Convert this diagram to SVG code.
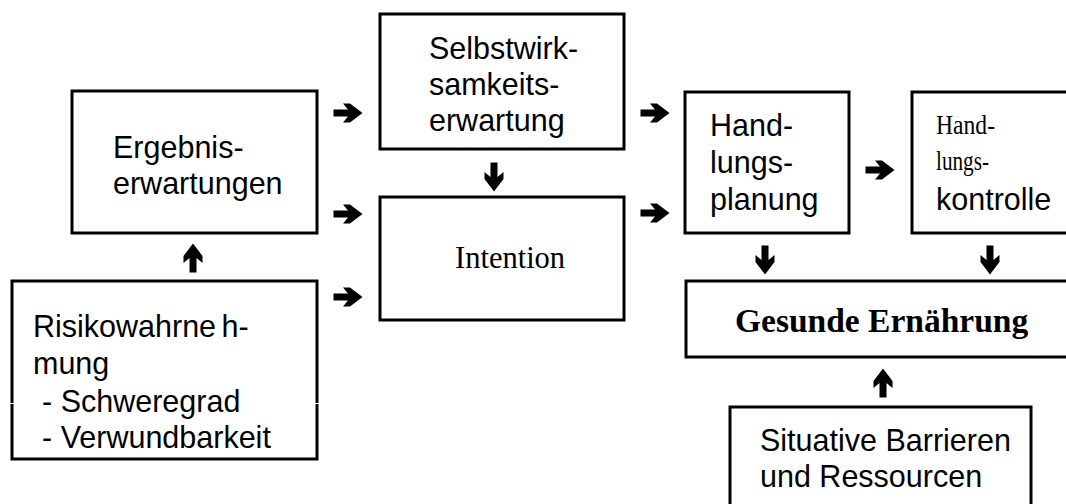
<svg xmlns="http://www.w3.org/2000/svg" width="1066" height="504" viewBox="0 0 1066 504">
<style>
.box{fill:#fff;stroke:#000;stroke-width:3}
.sans{font-family:"Liberation Sans",Arial,sans-serif;font-size:30.5px;fill:#000}
.serif{font-family:"Liberation Serif","Times New Roman",serif;fill:#000}
.arr{fill:#000}
</style>
<defs>
<path id="ar" d="M -14.5,-3.5 H 0 L -5,-9.5 H 2 L 14.5,0 L 2,9.5 H -5 L 0,3.5 H -14.5 Z"/>
</defs>
<rect width="1066" height="504" fill="#fff"/>
<g id="ergebnis">
<rect class="box" x="72" y="91" width="245" height="142"/>
<text class="sans" x="113" y="158">Ergebnis-</text>
<text class="sans" x="113" y="194">erwartungen</text>
</g>
<g id="risiko">
<rect class="box" x="12" y="281" width="305" height="178"/>
<line x1="8" y1="403.5" x2="16" y2="403.5" stroke="#fff" stroke-width="1"/>
<line x1="313" y1="403.5" x2="322" y2="403.5" stroke="#fff" stroke-width="1"/>
<text class="sans" x="33" y="337" word-spacing="-3">Risikowahrne h-</text>
<text class="sans" x="33" y="374">mung</text>
<text class="sans" x="42" y="412">- Schweregrad</text>
<text class="sans" x="42" y="448">- Verwundbarkeit</text>
</g>
<g id="selbstwirksamkeit">
<rect class="box" x="380" y="14" width="244" height="135"/>
<text class="sans" x="429" y="59">Selbstwirk-</text>
<text class="sans" x="429" y="95">samkeits-</text>
<text class="sans" x="429" y="131">erwartung</text>
</g>
<g id="intention">
<rect class="box" x="380" y="197" width="244" height="123"/>
<text class="serif" x="455" y="268" font-size="30.5">Intention</text>
</g>
<g id="handlungsplanung">
<rect class="box" x="685" y="92" width="164" height="141"/>
<text class="sans" x="710" y="136">Hand-</text>
<text class="sans" x="710" y="173">lungs-</text>
<text class="sans" x="710" y="210">planung</text>
</g>
<g id="handlungskontrolle">
<rect class="box" x="912" y="92" width="170" height="141"/>
<text class="serif" x="936" y="134" font-size="27" textLength="59" lengthAdjust="spacingAndGlyphs">Hand-</text>
<text class="serif" x="936" y="170" font-size="27" textLength="53" lengthAdjust="spacingAndGlyphs">lungs-</text>
<text class="sans" x="936" y="210">kontrolle</text>
</g>
<g id="gesunde-ernaehrung">
<rect class="box" x="686" y="281" width="400" height="76"/>
<text class="serif" x="735" y="332" font-size="33.5" font-weight="bold">Gesunde Ernährung</text>
</g>
<g id="situative">
<rect class="box" x="730" y="407" width="301" height="120"/>
<text class="sans" x="760" y="451">Situative Barrieren</text>
<text class="sans" x="760" y="487">und Ressourcen</text>
</g>
<g id="connectors" class="arr">
<use href="#ar" transform="translate(348,113)"/>
<use href="#ar" transform="translate(348,214)"/>
<use href="#ar" transform="translate(348,297)"/>
<use href="#ar" transform="translate(655,113)"/>
<use href="#ar" transform="translate(655,213)"/>
<use href="#ar" transform="translate(880,170)"/>
<use href="#ar" transform="translate(494,177) rotate(90)"/>
<use href="#ar" transform="translate(765,260) rotate(90)"/>
<use href="#ar" transform="translate(990,260) rotate(90)"/>
<use href="#ar" transform="translate(193,258) rotate(-90)"/>
<use href="#ar" transform="translate(883,383) rotate(-90)"/>
</g>
</svg>
